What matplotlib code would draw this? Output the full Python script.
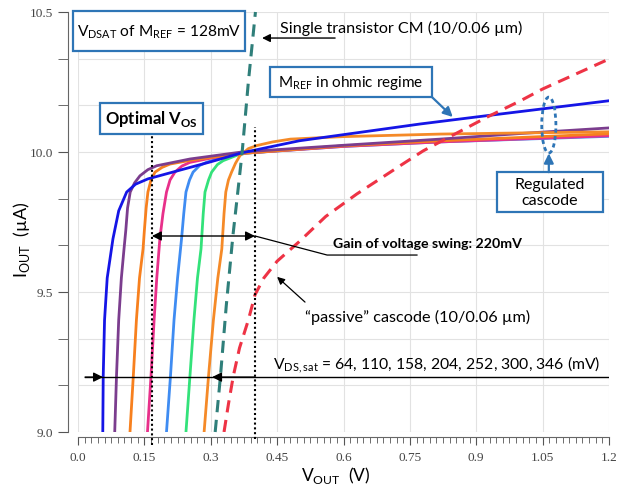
import matplotlib
matplotlib.use('Agg')
from matplotlib import pyplot as plt
from matplotlib.patches import Rectangle, Ellipse
from matplotlib.ticker import MultipleLocator, FixedLocator
import numpy as np

# --- data (V in volts, I in uA) ---
x_ticks = [0.0, 0.15, 0.3, 0.45, 0.6, 0.75, 0.9, 1.05, 1.2]
x_tick_labels = ['0.0', '0.15', '0.3', '0.45', '0.6', '0.75', '0.9', '1.05', '1.2']
y_ticks = [9.0, 9.5, 10.0, 10.5]

# regulated cascode, VDS,sat = 64 mV (Mref in ohmic regime)
v_rc64 = [0.056, 0.057, 0.060, 0.066, 0.079, 0.092, 0.110, 0.130, 0.158, 0.23, 0.30, 0.37, 0.50, 0.773, 0.925, 1.2]
i_rc64 = [9.0, 9.2, 9.4, 9.55, 9.69, 9.79, 9.857, 9.885, 9.904, 9.935, 9.965, 9.997, 10.04, 10.10, 10.13, 10.183]
# 110 mV
v_rc110 = [0.083, 0.087, 0.092, 0.098, 0.104, 0.108, 0.112, 0.118, 0.128, 0.140, 0.158, 0.178, 0.253, 0.37, 0.6, 0.818, 1.0, 1.2]
i_rc110 = [9.0, 9.2, 9.4, 9.55, 9.654, 9.72, 9.8, 9.857, 9.89, 9.915, 9.937, 9.951, 9.975, 10.0, 10.024, 10.046, 10.066, 10.086]
# 158 mV
v_rc158 = [0.1175, 0.125, 0.132, 0.139, 0.147, 0.150, 0.154, 0.158, 0.165, 0.174, 0.19, 0.208, 0.26, 0.37, 0.6, 0.818, 1.2]
i_rc158 = [9.0, 9.2, 9.4, 9.55, 9.654, 9.72, 9.8, 9.857, 9.9, 9.928, 9.945, 9.957, 9.972, 9.995, 10.022, 10.04, 10.065]
# 204 mV
v_rc204 = [0.157, 0.165, 0.172, 0.178, 0.185, 0.192, 0.200, 0.208, 0.219, 0.235, 0.253, 0.30, 0.37, 0.6, 0.818, 1.2]
i_rc204 = [9.0, 9.2, 9.4, 9.55, 9.69, 9.78, 9.857, 9.9, 9.928, 9.95, 9.963, 9.978, 9.995, 10.02, 10.036, 10.058]
# 252 mV
v_rc252 = [0.200, 0.209, 0.217, 0.225, 0.234, 0.239, 0.244, 0.252, 0.260, 0.275, 0.29, 0.33, 0.37, 0.6, 0.818, 1.2]
i_rc252 = [9.0, 9.2, 9.4, 9.55, 9.69, 9.78, 9.857, 9.9, 9.928, 9.952, 9.963, 9.982, 9.995, 10.02, 10.036, 10.056]
# 300 mV
v_rc300 = [0.244, 0.253, 0.262, 0.270, 0.278, 0.283, 0.287, 0.295, 0.302, 0.315, 0.328, 0.37, 0.6, 0.818, 1.2]
i_rc300 = [9.0, 9.2, 9.4, 9.55, 9.654, 9.78, 9.857, 9.9, 9.928, 9.955, 9.969, 9.995, 10.022, 10.038, 10.06]
# 346 mV
v_rc346 = [0.285, 0.295, 0.306, 0.316, 0.325, 0.330, 0.334, 0.340, 0.347, 0.356, 0.366, 0.385, 0.404, 0.44, 0.48, 0.6, 0.818, 1.0, 1.2]
i_rc346 = [9.0, 9.2, 9.4, 9.55, 9.654, 9.78, 9.857, 9.9, 9.928, 9.96, 9.987, 10.012, 10.023, 10.036, 10.046, 10.055, 10.064, 10.068, 10.072]
# single transistor current mirror
v_single = [0.310, 0.322, 0.335, 0.350, 0.362, 0.371, 0.385, 0.401]
i_single = [9.0, 9.2, 9.45, 9.7, 9.87, 10.0, 10.25, 10.5]
# passive cascode
v_passive = [0.330, 0.340, 0.351, 0.365, 0.385, 0.40, 0.42, 0.45, 0.50, 0.56, 0.63, 0.728, 0.78, 0.818, 0.925, 1.0, 1.05, 1.2]
i_passive = [9.0, 9.1, 9.2, 9.3, 9.4, 9.49, 9.55, 9.61, 9.68, 9.77, 9.85, 9.951, 10.004, 10.036, 10.125, 10.183, 10.225, 10.332]

plt.rcParams['font.family'] = ['Lato', 'DejaVu Sans']
plt.rcParams['mathtext.fontset'] = 'custom'
plt.rcParams['mathtext.rm'] = 'Lato'
plt.rcParams['mathtext.bf'] = 'Lato:bold'

box_blue = '#2E75B6'

fig = plt.figure(figsize=(6.27, 4.85), dpi=100)
ax = fig.add_axes([78 / 627, 52 / 485, 531 / 627, 420 / 485])
ax.set_xlim(0, 1.2)
ax.set_ylim(9.0, 10.5)

# curves
ax.plot(v_rc252, i_rc252, color='#3F8CF2', lw=2)
ax.plot(v_rc300, i_rc300, color='#33E27A', lw=2)
ax.plot(v_rc204, i_rc204, color='#E8308A', lw=2)
ax.plot(v_rc158, i_rc158, color='#F7801E', lw=2)
ax.plot(v_rc110, i_rc110, color='#7B3D8E', lw=2)
ax.plot(v_rc346, i_rc346, color='#F58A28', lw=2)
ax.plot(v_rc64, i_rc64, color='#1515E6', lw=2)
ax.plot(v_single, i_single, color='#2F7F7A', lw=2.2, ls=(0, (4, 2.5)), clip_on=False)
ax.plot(v_passive, i_passive, color='#EE3345', lw=2.2, ls=(0, (4, 2.5)))

# axes styling
for s in ['top', 'right']:
    ax.spines[s].set_visible(False)
ax.spines['left'].set_position(('outward', 7.2))
ax.spines['bottom'].set_position(('outward', 3.6))
for s in ['left', 'bottom']:
    ax.spines[s].set_color('#666666')
ax.xaxis.set_major_locator(FixedLocator(x_ticks))
ax.set_xticklabels(x_tick_labels)
ax.xaxis.set_minor_locator(MultipleLocator(0.015))
ax.yaxis.set_major_locator(FixedLocator(y_ticks))
ax.set_yticklabels(['%.1f' % t for t in y_ticks])
ax.yaxis.set_minor_locator(MultipleLocator(0.5 / 3))
ax.tick_params(axis='x', which='major', length=6, color='#555555', labelsize=9.5,
               labelcolor='#444444', labelfontfamily='Liberation Serif', pad=4)
ax.tick_params(axis='x', which='minor', length=4, color='#555555')
ax.tick_params(axis='y', which='both', length=7, color='#555555', labelsize=9.5,
               labelcolor='#444444', labelfontfamily='Liberation Serif', pad=4)
ax.xaxis.grid(True, which='major', color='#e2e2e2', lw=0.8)
ax.yaxis.grid(True, which='both', color='#e2e2e2', lw=0.8)
ax.set_axisbelow(True)

fig.text(22 / 627, 1 - 240 / 485, r'I$_{\mathrm{OUT}}$  (µA)', rotation=90,
         ha='center', va='center', fontsize=13)
fig.text(336 / 627, 1 - 476 / 485, r'V$_{\mathrm{OUT}}$  (V)', ha='center',
         va='center', fontsize=12.5)

# annotation boxes
def box(x0, x1, y0, y1):
    ax.add_patch(Rectangle((x0, y0), x1 - x0, y1 - y0, fc='white', ec=box_blue,
                           lw=1.6, clip_on=False, zorder=5))

box(-0.011, 0.377, 10.361, 10.503)
ax.text(0.183, 10.432, r'V$_{\mathrm{DSAT}}$ of M$_{\mathrm{REF}}$ = 128mV',
        ha='center', va='center', fontsize=11.2, zorder=6)

box(0.434, 0.800, 10.196, 10.304)
ax.text(0.617, 10.250, r'M$_{\mathrm{REF}}$ in ohmic regime', ha='center',
        va='center', fontsize=11, zorder=6)
ax.annotate('', xy=(0.847, 10.125), xytext=(0.800, 10.196),
            arrowprops=dict(arrowstyle='-|>', color=box_blue, lw=1.6,
                            mutation_scale=14, shrinkA=0, shrinkB=0), zorder=6)

box(0.050, 0.2825, 10.064, 10.175)
ax.text(0.166, 10.120, r'Optimal V$_{\mathbf{OS}}$', ha='center', va='center',
        fontsize=12, fontweight='bold', zorder=6)

box(0.946, 1.186, 9.786, 9.928)
ax.text(1.066, 9.857, 'Regulated\ncascode', ha='center', va='center',
        fontsize=11.5, linespacing=1.1, zorder=6)
ax.annotate('', xy=(1.064, 9.995), xytext=(1.064, 9.928),
            arrowprops=dict(arrowstyle='-|>', color=box_blue, lw=1.6,
                            mutation_scale=14, shrinkA=0, shrinkB=0), zorder=6)
ax.add_patch(Ellipse((1.064, 10.096), 0.032, 0.20, fill=False, ec=box_blue,
                     lw=2, ls=(0, (1.5, 1.2)), zorder=6))

# single transistor label
ax.text(0.456, 10.446, 'Single transistor CM (10/0.06 µm)', ha='left',
        va='center', fontsize=11.6)
ax.annotate('', xy=(0.416, 10.407), xytext=(0.581, 10.407),
            arrowprops=dict(arrowstyle='-|>', color='black', lw=1,
                            mutation_scale=12, shrinkA=0, shrinkB=0))

# optimal Vos markers and swing gain
ax.plot([0.167, 0.167], [8.955, 10.064], color='black', lw=1.5, ls=(0, (1, 1.3)),
        clip_on=False, zorder=4)
ax.plot([0.40, 0.40], [8.975, 10.089], color='black', lw=1.5, ls=(0, (1, 1.3)),
        clip_on=False, zorder=4)
ax.annotate('', xy=(0.167, 9.70), xytext=(0.40, 9.70),
            arrowprops=dict(arrowstyle='<|-|>', color='black', lw=1,
                            mutation_scale=14, shrinkA=0, shrinkB=0))
ax.plot([0.40, 0.563, 0.766], [9.70, 9.632, 9.632], color='black', lw=0.9)
ax.text(0.576, 9.675, 'Gain of voltage swing: 220mV', ha='left', va='center',
        fontsize=10.2, fontweight='bold')

# passive cascode label
ax.text(0.513, 9.411, '\u201cpassive\u201d cascode (10/0.06 µm)', ha='left',
        va='center', fontsize=11.7)
ax.annotate('', xy=(0.450, 9.554), xytext=(0.513, 9.464),
            arrowprops=dict(arrowstyle='-|>', color='black', lw=0.9,
                            mutation_scale=11, shrinkA=0, shrinkB=0))

# VDS,sat line
ax.plot([0.016, 1.198], [9.196, 9.196], color='black', lw=1, zorder=4)
ax.annotate('', xy=(0.0565, 9.196), xytext=(0.016, 9.196),
            arrowprops=dict(arrowstyle='-|>', color='black', lw=1,
                            mutation_scale=14, shrinkA=0, shrinkB=0), zorder=5)
ax.annotate('', xy=(0.303, 9.196), xytext=(0.40, 9.196),
            arrowprops=dict(arrowstyle='-|>', color='black', lw=1,
                            mutation_scale=14, shrinkA=0, shrinkB=0), zorder=5)
ax.text(0.44, 9.243, r'V$_{\mathrm{DS,sat}}$ = 64, 110, 158, 204, 252, 300, 346 (mV)',
        ha='left', va='center', fontsize=11.3)

fig.savefig('out.png', dpi=100)
